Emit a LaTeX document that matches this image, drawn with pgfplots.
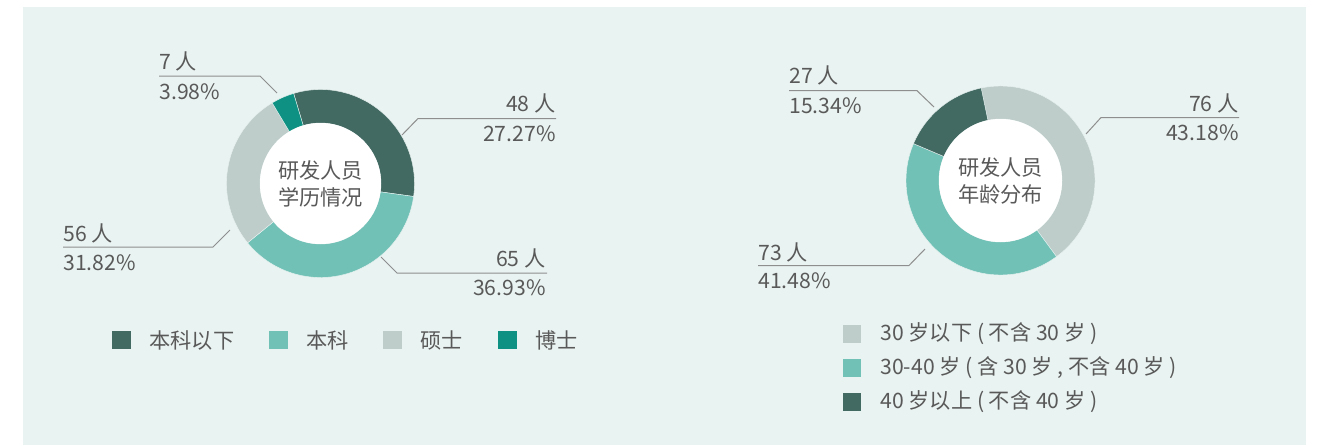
\documentclass[border=0pt]{standalone}
\usepackage{pgfplots}
\pgfplotsset{compat=1.18}
\usepackage{pgfplotstable}
\usepackage{fontspec}
\setmainfont{Noto Sans CJK SC}
\definecolor{cDark}{HTML}{426962}
\definecolor{cMint}{HTML}{72C1B7}
\definecolor{cGray}{HTML}{BECDCA}
\definecolor{cTeal}{HTML}{0E9182}
\definecolor{cBg}{HTML}{E9F3F1}
\definecolor{cText}{HTML}{595959}
\definecolor{cLine}{HTML}{8E8E8E}

% education (slices as drawn, clockwise from the top)
\pgfplotstableread{
value col
56 cDark
65 cMint
48 cGray
7 cTeal
}\eduTable
% age
\pgfplotstableread{
value col
76 cGray
73 cMint
27 cDark
}\ageTable

\newcommand{\drawdonut}[7]{%
  \pgfplotstablegetrowsof{#1}%
  \pgfmathtruncatemacro{\lastrow}{\pgfplotsretval-1}%
  \xdef\curang{#4}%
  \pgfmathsetmacro{\rdiff}{#7-#6}%
  \foreach \i in {0,...,\lastrow}{%
    \pgfplotstablegetelem{\i}{value}\of{#1}\let\val\pgfplotsretval
    \pgfplotstablegetelem{\i}{col}\of{#1}\let\col\pgfplotsretval
    \pgfmathsetmacro{\endang}{\curang-\val/#5*360}%
    \edef\cmd{\noexpand\fill[\col, draw=cBg, line width=0.2pt] (axis cs:#2,#3) ++(\curang:#6pt) arc[start angle=\curang,end angle=\endang,radius=#6pt] -- ++(\endang:\rdiff pt) arc[start angle=\endang,end angle=\curang,radius=#7pt] -- cycle;}%
    \cmd
    \xdef\curang{\endang}%
  }%
  \fill[white] (axis cs:#2,#3) circle[radius=#7pt];
}

\tikzset{
  lab/.style={inner sep=0pt, text=cText, font=\fontsize{10.6}{12}\selectfont},
  lead/.style={draw=cLine, line width=0.5pt},
}

\begin{document}
\begin{tikzpicture}
\begin{axis}[
  hide axis, scale only axis,
  width=661pt, height=222.5pt,
  xmin=0, xmax=1322, ymin=0, ymax=445,
  y dir=reverse, clip=false,
]
\fill[white] (axis cs:0,0) rectangle (axis cs:1322,445);
\fill[cBg] (axis cs:23,7) rectangle (axis cs:1306,445);

% ---------- left donut ----------
\drawdonut{\eduTable}{320.5}{183.5}{106.6}{176}{47}{30.25}
\node[lab, align=center, font=\fontsize{10.6}{13.5}\selectfont, text=cText] at (axis cs:320.5,183.5) {研发人员\\学历情况};

\node[lab, anchor=base west] at (axis cs:159,69) {7 人};
\node[lab, anchor=base west] at (axis cs:159,99) {3.98\%};
\draw[lead] (axis cs:159,76) -- (axis cs:260,76) -- (axis cs:277,93);

\node[lab, anchor=base east] at (axis cs:556,111) {48 人};
\node[lab, anchor=base east] at (axis cs:556,141.5) {27.27\%};
\draw[lead] (axis cs:556,118.5) -- (axis cs:418,118.5) -- (axis cs:402,135);

\node[lab, anchor=base west] at (axis cs:63,241.5) {56 人};
\node[lab, anchor=base west] at (axis cs:63,270.5) {31.82\%};
\draw[lead] (axis cs:63,247) -- (axis cs:213,247) -- (axis cs:230,230);

\node[lab, anchor=base east] at (axis cs:546,266) {65 人};
\node[lab, anchor=base east] at (axis cs:546,295) {36.93\%};
\draw[lead] (axis cs:547,273) -- (axis cs:397,273) -- (axis cs:381,257);

% legend left
\fill[cDark] (axis cs:112,331) rectangle (axis cs:131,349);
\node[lab, anchor=west] at (axis cs:149,340) {本科以下};
\fill[cMint] (axis cs:269,331) rectangle (axis cs:288,349);
\node[lab, anchor=west] at (axis cs:306,340) {本科};
\fill[cGray] (axis cs:383,331) rectangle (axis cs:402,349);
\node[lab, anchor=west] at (axis cs:420,340) {硕士};
\fill[cTeal] (axis cs:498,331) rectangle (axis cs:517,349);
\node[lab, anchor=west] at (axis cs:535,340) {博士};

% ---------- right donut ----------
\drawdonut{\ageTable}{1000.5}{180.5}{101.8}{176}{47.25}{30.75}
\node[lab, align=center, font=\fontsize{10.6}{13.5}\selectfont, text=cText] at (axis cs:1000.5,180.5) {研发人员\\年龄分布};

\node[lab, anchor=base west] at (axis cs:789,83) {27 人};
\node[lab, anchor=base west] at (axis cs:789,113) {15.34\%};
\draw[lead] (axis cs:789,90.7) -- (axis cs:917,90.7) -- (axis cs:934,107);

\node[lab, anchor=base east] at (axis cs:1239,111) {76 人};
\node[lab, anchor=base east] at (axis cs:1239,140) {43.18\%};
\draw[lead] (axis cs:1239,117.5) -- (axis cs:1101,117.5) -- (axis cs:1086,134);

\node[lab, anchor=base west] at (axis cs:758,260) {73 人};
\node[lab, anchor=base west] at (axis cs:758,288) {41.48\%};
\draw[lead] (axis cs:758,265.5) -- (axis cs:909,265.5) -- (axis cs:925,249);

% legend right
\fill[cGray] (axis cs:843,325) rectangle (axis cs:861,343);
\node[lab, anchor=west] at (axis cs:880,334) {30 岁以下 ( 不含 30 岁 )};
\fill[cMint] (axis cs:843,359) rectangle (axis cs:861,377);
\node[lab, anchor=west] at (axis cs:880,368) {30-40 岁 ( 含 30 岁 , 不含 40 岁 )};
\fill[cDark] (axis cs:843,393) rectangle (axis cs:861,411);
\node[lab, anchor=west] at (axis cs:880,402) {40 岁以上 ( 不含 40 岁 )};
\end{axis}
\end{tikzpicture}
\end{document}
